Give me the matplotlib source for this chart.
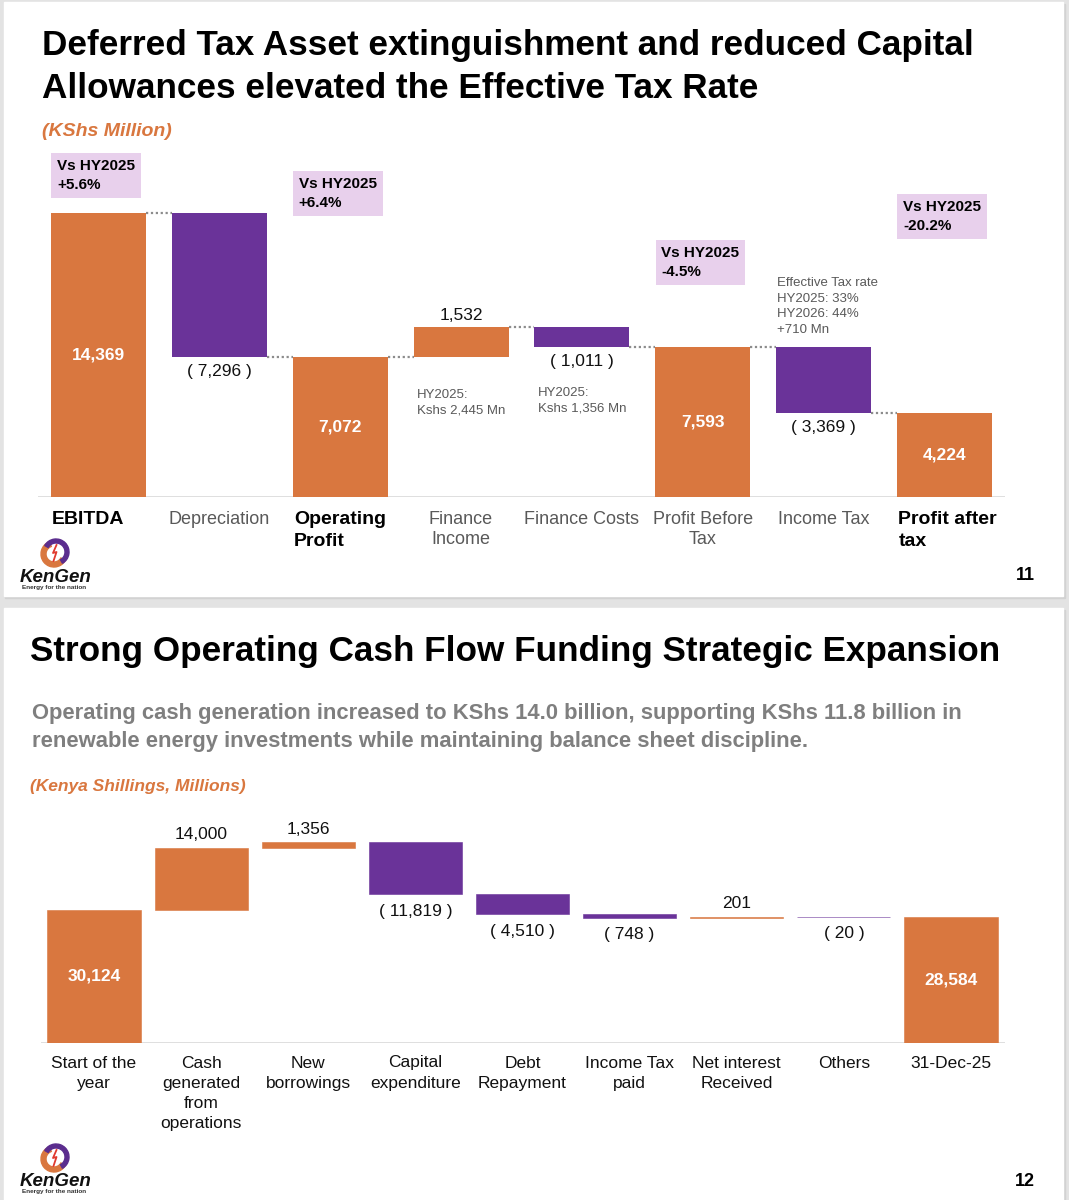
import matplotlib
matplotlib.use("Agg")
import matplotlib.pyplot as plt
from matplotlib.patches import Rectangle, Wedge
import numpy as np

plt.rcParams['font.family'] = ['Liberation Sans', 'DejaVu Sans']

W, H = 1069, 1200
ORANGE = '#D9773F'
PURPLE = '#6A3399'
LAVENDER = '#E8D0EC'
GREY_TXT = '#595959'

# slide 11 - profit waterfall
pl_labels = ['EBITDA', 'Depreciation', 'Operating\nProfit', 'Finance\nIncome',
             'Finance Costs', 'Profit Before\nTax', 'Income Tax', 'Profit after\ntax']
pl_values = [14369, -7296, 7072, 1532, -1011, 7593, -3369, 4224]
pl_total = [True, False, True, False, False, True, False, True]
pl_bold = [True, False, True, False, False, False, False, True]
pl_vs = [(0, 'Vs HY2025\n+5.6%'), (2, 'Vs HY2025\n+6.4%'),
         (5, 'Vs HY2025\n-4.5%'), (7, 'Vs HY2025\n-20.2%')]
pl_notes = [(3, 'HY2025:\nKshs 2,445 Mn'), (4, 'HY2025:\nKshs 1,356 Mn')]
tax_note = 'Effective Tax rate\nHY2025: 33%\nHY2026: 44%\n+710 Mn'

# slide 12 - cash flow waterfall
cf_labels = ['Start of the\nyear', 'Cash\ngenerated\nfrom\noperations', 'New\nborrowings',
             'Capital\nexpenditure', 'Debt\nRepayment', 'Income Tax\npaid',
             'Net interest\nReceived', 'Others', '31-Dec-25']
cf_values = [30124, 14000, 1356, -11819, -4510, -748, 201, -20, 28584]
cf_total = [True, False, False, False, False, False, False, False, True]


def fmt(v):
    return '( {:,} )'.format(-v) if v < 0 else '{:,}'.format(v)


def waterfall(values, totals):
    bottoms, heights, ends = [], [], []
    run = 0
    for v, t in zip(values, totals):
        if t:
            bottoms.append(0); heights.append(v); run = v
        elif v >= 0:
            bottoms.append(run); heights.append(v); run += v
        else:
            bottoms.append(run + v); heights.append(-v); run += v
        ends.append(run)
    return np.array(bottoms), np.array(heights), ends


def pix_axes(fig, left, top, right, bottom):
    return fig.add_axes([left / W, 1 - bottom / H, (right - left) / W, (bottom - top) / H])


def ftext(x, y, s, **kw):
    fig.text(x / W, 1 - y / H, s, **kw)


def logo(fig, cx, cy):
    la = pix_axes(fig, cx - 20, cy - 15, cx + 20, cy + 15)
    la.set_xlim(-20, 20); la.set_ylim(-15, 15); la.axis('off')
    la.add_patch(Wedge((-1, -1), 13, 110, 330, width=5, color=ORANGE))
    la.add_patch(Wedge((1, 1), 13, -60, 150, width=4, color='#5B2D8E'))
    la.plot([1.5, -2, 1.5, -1.5], [8, 0, 1, -8], color='#E03A2F', lw=1.3)
    ftext(20, cy + 24, 'KenGen', fontsize=13.5, fontweight='bold',
          style='italic', color='#111111', va='center', ha='left')
    ftext(22, cy + 34, 'Energy for the nation', fontsize=4.6,
          fontweight='bold', color='#333333', va='center', ha='left')


fig = plt.figure(figsize=(W / 100, H / 100), dpi=100)
fig.patch.set_facecolor('#E3E3E3')

# slide backgrounds with a soft shadow
for top, bot in [(2, 596), (608, 1200)]:
    fig.patches.append(Rectangle((5 / W, 1 - (bot + 2) / H), 1060 / W, (bot - top) / H,
                                 transform=fig.transFigure, color='#D2D2D2', zorder=-2))
    fig.patches.append(Rectangle((4 / W, 1 - bot / H), 1059 / W, (bot - top) / H,
                                 transform=fig.transFigure, color='white', zorder=-1))

# ---------- slide 11 ----------
ftext(42, 45, 'Deferred Tax Asset extinguishment and reduced Capital',
      fontsize=25.3, fontweight='bold', color='black', va='center', ha='left')
ftext(42, 88, 'Allowances elevated the Effective Tax Rate',
      fontsize=25.3, fontweight='bold', color='black', va='center', ha='left')
ftext(42, 131, '(KShs Million)', fontsize=14, fontweight='bold',
      style='italic', color=ORANGE, va='center', ha='left')

ax = pix_axes(fig, 38, 141, 1005, 497)
n = len(pl_values)
width = 0.785
b, h, ends = waterfall(pl_values, pl_total)
cols = [ORANGE if (t or v > 0) else PURPLE for v, t in zip(pl_values, pl_total)]
x = np.arange(n)
ax.bar(x, h, bottom=b, width=width, color=cols, zorder=2)
ax.set_xlim(-0.5, n - 0.5)
ax.set_ylim(0, 18000)
ax.axis('off')
ax.axhline(0, color='#D9D9D9', lw=1.2, zorder=1)

for i in range(n - 1):
    ax.plot([i + width / 2, i + 1 - width / 2], [ends[i], ends[i]], ls=(0, (1, 1.2)),
            color='#8C8C8C', lw=1.6, zorder=1)

for i, (v, t) in enumerate(zip(pl_values, pl_total)):
    if t:
        ax.text(i, b[i] + h[i] / 2, fmt(v), color='white', fontsize=12.5,
                fontweight='bold', ha='center', va='center', zorder=3)
    elif v > 0:
        ax.annotate(fmt(v), (i, b[i] + h[i]), xytext=(0, 3), textcoords='offset points',
                    ha='center', va='bottom', fontsize=12.5, color='#111111')
    else:
        ax.annotate(fmt(v), (i, b[i]), xytext=(0, -5), textcoords='offset points',
                    ha='center', va='top', fontsize=12.5, color='#111111')

for i, lab in enumerate(pl_labels):
    if pl_bold[i]:
        ax.annotate(lab, (i - width / 2 + 0.01, 0), xytext=(0, -10), textcoords='offset points',
                    ha='left', va='top', fontsize=14, fontweight='bold', color='black',
                    annotation_clip=False, linespacing=1.4)
    else:
        ax.annotate(lab, (i, 0), xytext=(0, -10), textcoords='offset points',
                    ha='center', va='top', fontsize=13, color=GREY_TXT,
                    annotation_clip=False, linespacing=1.25)

# comparison boxes (offset in points above the bar top)
vs_offsets = {0: 15, 2: 106, 5: 49, 7: 130}
for i, txt in pl_vs:
    ax.annotate(txt, (i - width / 2 + 0.05, b[i] + h[i]), xytext=(0, vs_offsets[i]),
                textcoords='offset points', ha='left', va='bottom', fontsize=11,
                fontweight='bold', color='black', linespacing=1.45,
                bbox=dict(boxstyle='square,pad=0.38', fc=LAVENDER, ec='none'))

for i, txt in pl_notes:
    ax.annotate(txt, (i - width / 2 + 0.03, b[i]), xytext=(0, -23 if i == 3 else -29),
                textcoords='offset points', ha='left', va='top', fontsize=9.5,
                color=GREY_TXT, linespacing=1.4)
ax.annotate(tax_note, (6 - width / 2 + 0.01, b[6] + h[6]), xytext=(0, 8),
            textcoords='offset points', ha='left', va='bottom', fontsize=9.5,
            color=GREY_TXT, linespacing=1.4)

logo(fig, 55, 553)
ftext(1025, 576, '11', fontsize=13, fontweight='bold', ha='center', va='center')

# ---------- slide 12 ----------
ftext(30, 651, 'Strong Operating Cash Flow Funding Strategic Expansion',
      fontsize=25.3, fontweight='bold', color='black', va='center', ha='left')
ftext(32, 714, 'Operating cash generation increased to KShs 14.0 billion, supporting KShs 11.8 billion in',
      fontsize=15.8, fontweight='bold', color='#7F7F7F', va='center', ha='left')
ftext(32, 741, 'renewable energy investments while maintaining balance sheet discipline.',
      fontsize=15.8, fontweight='bold', color='#7F7F7F', va='center', ha='left')
ftext(30, 787, '(Kenya Shillings, Millions)', fontsize=12.5,
      fontweight='bold', style='italic', color=ORANGE, va='center', ha='left')

ax2 = pix_axes(fig, 40.5, 800, 1004.5, 1043)
m = len(cf_values)
width2 = 0.87
b2, h2, ends2 = waterfall(cf_values, cf_total)
cols2 = [ORANGE if (t or v > 0) else PURPLE for v, t in zip(cf_values, cf_total)]
ax2.bar(np.arange(m), h2, bottom=b2, width=width2, color=cols2, edgecolor=cols2,
        linewidth=0.4, zorder=2)
ax2.set_xlim(-0.5, m - 0.5)
ax2.set_ylim(0, 55000)
ax2.axis('off')
ax2.axhline(0, color='#D9D9D9', lw=1.2, zorder=1)

for i, (v, t) in enumerate(zip(cf_values, cf_total)):
    if t:
        ax2.text(i, b2[i] + h2[i] / 2, fmt(v), color='white', fontsize=12.5,
                 fontweight='bold', ha='center', va='center', zorder=3)
    elif v > 0:
        ax2.annotate(fmt(v), (i, b2[i] + h2[i]), xytext=(0, 4), textcoords='offset points',
                     ha='center', va='bottom', fontsize=12.5, color='#111111')
    else:
        ax2.annotate(fmt(v), (i, b2[i]), xytext=(0, -7), textcoords='offset points',
                     ha='center', va='top', fontsize=12.5, color='#111111')

for i, lab in enumerate(cf_labels):
    ax2.annotate(lab, (i, 0), xytext=(0, -9), textcoords='offset points', ha='center',
                 va='top', fontsize=12.5, color='#111111', annotation_clip=False,
                 linespacing=1.44)

logo(fig, 55, 1158)
ftext(1025, 1182, '12', fontsize=13, fontweight='bold', ha='center', va='center')

fig.savefig('out.png', dpi=100, facecolor=fig.get_facecolor())
